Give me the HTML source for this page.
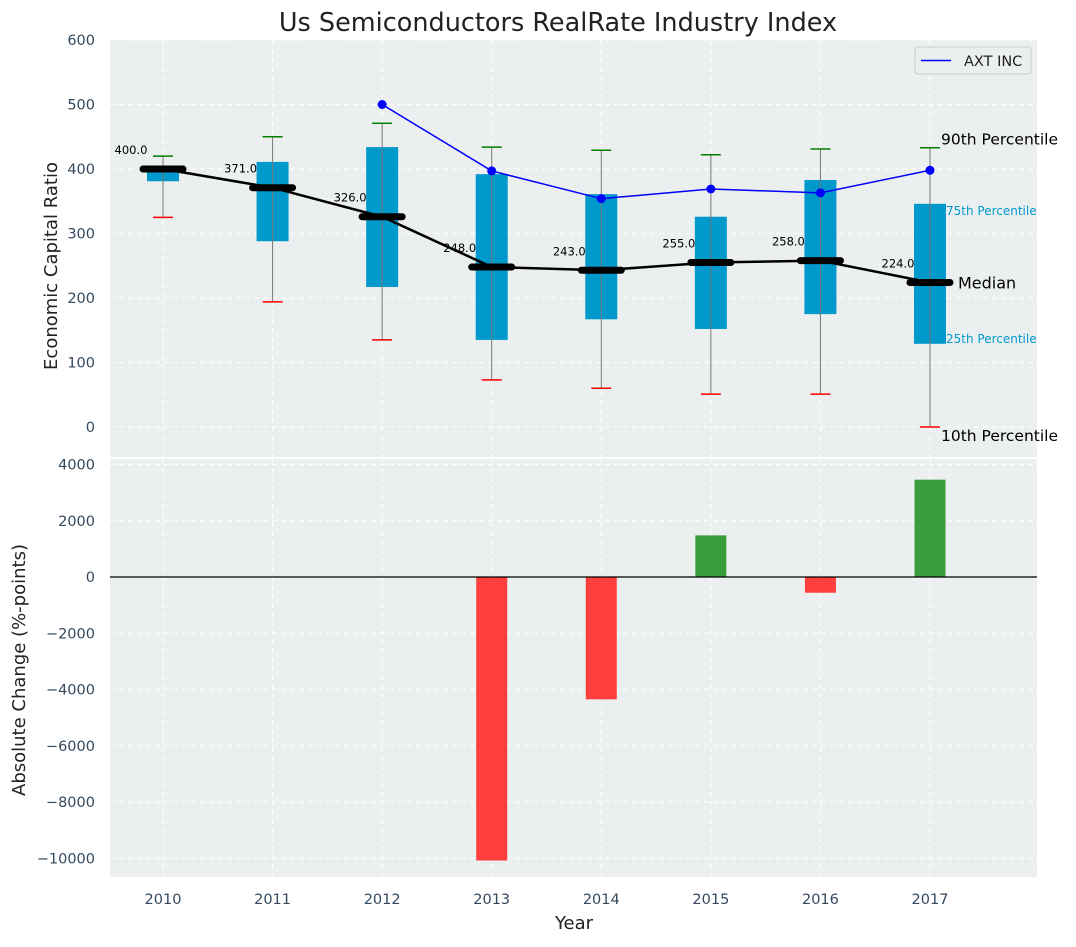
<!DOCTYPE html>
<html><head><meta charset="utf-8"><style>
body{margin:0;background:#fff;}
svg text{font-family:"DejaVu Sans","Liberation Sans",sans-serif;}
</style></head><body>
<svg id="c" width="1076" height="942" xmlns="http://www.w3.org/2000/svg"></svg>
<script>
const years=[2010,2011,2012,2013,2014,2015,2016,2017];
const p10=[325,194,135,73,60,51,51,0];
const p25=[381,288,217,135,167,152,175,129];
const median=[400,371,326,248,243,255,258,224];
const p75=[405,411,434,392,361,326,383,346];
const p90=[420,450,471,434,429,422,431,433];
const axtYears=[2012,2013,2014,2015,2016,2017];
const axt=[500,397,354,369,363,398];
const changeYears=[2013,2014,2015,2016,2017];
const change=[-10080,-4350,1480,-560,3460];
const topTicks=[0,100,200,300,400,500,600];
const botTicks=[-10000,-8000,-6000,-4000,-2000,0,2000,4000];

const NS="http://www.w3.org/2000/svg";
const svg=document.getElementById('c');
function el(t,a,parent){const e=document.createElementNS(NS,t);for(const k in a)e.setAttribute(k,a[k]);(parent||svg).appendChild(e);return e;}
const L=110,R=1037;
const X=v=>163+(v-2010)*(930-163)/7;
const Y1=v=>427-v*(427-40)/600;
const Y2=v=>577-v*(577-464.5)/4000;
let bg=el('rect',{x:L,y:40,width:R-L,height:417,fill:'#eceff0'});

let bg2=el('rect',{x:L,y:459,width:R-L,height:418,fill:'#eceff0'});

const grid=el('g',{stroke:'#fff','stroke-dasharray':'5,4','stroke-width':1});

years.forEach(y=>{el('line',{x1:X(y),x2:X(y),y1:40,y2:457},grid);el('line',{x1:X(y),x2:X(y),y1:459,y2:877},grid);});
topTicks.forEach(t=>{el('line',{x1:L,x2:R,y1:Y1(t),y2:Y1(t)},grid);
 const tx=el('text',{x:95,y:Y1(t)+5,'text-anchor':'end','font-size':14.5,fill:'#34495e'});tx.textContent=t;
 });
botTicks.forEach(t=>{el('line',{x1:L,x2:R,y1:Y2(t),y2:Y2(t)},grid);
 const tx=el('text',{x:95,y:Y2(t)+5,'text-anchor':'end','font-size':14.5,fill:'#34495e'});tx.textContent=t<0?'\u2212'+(-t):t;
 });
years.forEach(y=>{const tx=el('text',{x:X(y),y:904,'text-anchor':'middle','font-size':14.5,fill:'#34495e'});tx.textContent=y;
 });
years.forEach((y,i)=>{const x=X(y);
 const b=el('rect',{x:x-16,y:Y1(p75[i]),width:32,height:Y1(p25[i])-Y1(p75[i]),fill:'#0099cc'});
 
 const w=el('line',{x1:x,x2:x,y1:Y1(p10[i]),y2:Y1(p90[i]),stroke:'#777','stroke-width':1});
 
 const c1=el('line',{x1:x-10,x2:x+10,y1:Y1(p90[i]),y2:Y1(p90[i]),stroke:'green','stroke-width':1.5});
 
 const c2=el('line',{x1:x-10,x2:x+10,y1:Y1(p10[i]),y2:Y1(p10[i]),stroke:'red','stroke-width':1.5});
 
});
const ap=el('polyline',{points:axtYears.map((y,i)=>X(y)+','+Y1(axt[i])).join(' '),fill:'none',stroke:'blue','stroke-width':1.5});

axtYears.forEach((y,i)=>{const d=el('circle',{cx:X(y),cy:Y1(axt[i]),r:4.5,fill:'blue'});
 });
const ml=el('polyline',{points:years.map((y,i)=>X(y)+','+Y1(median[i])).join(' '),fill:'none',stroke:'#000','stroke-width':2.5});

years.forEach((y,i)=>{const x=X(y);
 const m=el('line',{x1:x-20,x2:x+20,y1:Y1(median[i]),y2:Y1(median[i]),stroke:'#000','stroke-width':7,'stroke-linecap':'round'});
 
 const t=el('text',{x:x-32,y:Y1(median[i])-15,'text-anchor':'middle','font-size':11.5,fill:'#000'});t.textContent=median[i].toFixed(1);
 
});
const li=years.length-1,lx=X(years[li]);
function ann(txt,x,y,fs,col){const t=el('text',{x:x,y:y,'font-size':fs,fill:col});t.textContent=txt;
 }
ann('90th Percentile',lx+11,Y1(p90[li])-3,15.5,'#000');
ann('75th Percentile',lx+16,Y1(p75[li])+11,12,'#0099cc');
ann('Median',lx+28,Y1(median[li])+6,16,'#000');
ann('25th Percentile',lx+16,Y1(p25[li])-1,12,'#0099cc');
ann('10th Percentile',lx+11,Y1(p10[li])+14,15.5,'#000');
const z=el('line',{x1:L,x2:R,y1:Y2(0),y2:Y2(0),stroke:'#000','stroke-width':1.2});

changeYears.forEach((y,i)=>{const v=change[i];
 const b=el('rect',{x:X(y)-15.5,y:Math.min(Y2(v),Y2(0)),width:31,height:Math.abs(Y2(v)-Y2(0)),fill:v<0?'#ff3e3e':'#3b9c3b'});
 });
z.parentNode.appendChild(z);
const lg=el('g',{});
el('rect',{x:915,y:47,width:116,height:27,rx:3,fill:'#eceff0',stroke:'#ccc'},lg);
el('line',{x1:921,x2:951,y1:60.5,y2:60.5,stroke:'blue','stroke-width':1.5},lg);
const lt=el('text',{x:964,y:66,'font-size':14.5,fill:'#222'},lg);lt.textContent='AXT INC';
const tt=el('text',{x:558,y:31,'text-anchor':'middle','font-size':25.5,fill:'#222'});tt.textContent='Us Semiconductors RealRate Industry Index';

const yt=el('text',{x:0,y:0,transform:'translate(57,266) rotate(-90)','text-anchor':'middle','font-size':18,fill:'#222'});yt.textContent='Economic Capital Ratio';

const yt2=el('text',{x:0,y:0,transform:'translate(25,670) rotate(-90)','text-anchor':'middle','font-size':18,fill:'#222'});yt2.textContent='Absolute Change (%-points)';

const xt=el('text',{x:574,y:929,'text-anchor':'middle','font-size':18,fill:'#222'});xt.textContent='Year';

</script>
</body></html>
